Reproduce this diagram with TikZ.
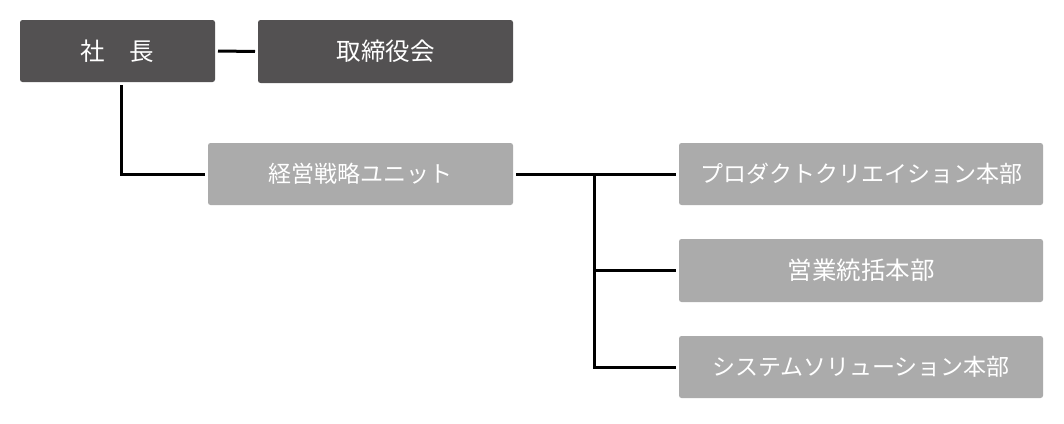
\documentclass[tikz,border=0pt]{standalone}
\usepackage{fontspec}
\setmainfont{Noto Sans CJK JP}
\definecolor{darkbox}{HTML}{535152}
\definecolor{lightbox}{HTML}{ABABAB}
\begin{document}
\begin{tikzpicture}[x=1pt,y=-1pt,
  box/.style={rectangle, rounded corners=2.5pt, text=white, inner sep=0pt, outer sep=3pt,
    font=\fontsize{24.5}{28}\selectfont},
  kana/.style={font=\fontsize{23}{28}\selectfont},
  darkb/.style={box, fill=darkbox},
  lightb/.style={box, fill=lightbox},
  conn/.style={draw=black, line width=3pt}]
\useasboundingbox (0,0) rectangle (1064,423);
\node[darkb, minimum width=195pt, minimum height=62pt] (pres) at (117.5,51) {社　長};
\node[darkb, minimum width=255pt, minimum height=63pt] (board) at (385.5,51.5) {取締役会};
\node[lightb, kana, minimum width=305pt, minimum height=62pt] (strat) at (360.5,174) {経営戦略ユニット};
\node[lightb, kana, minimum width=364pt, minimum height=62pt] (prod) at (861,174) {プロダクトクリエイション本部};
\node[lightb, minimum width=364pt, minimum height=63pt] (sales) at (861,270.5) {営業統括本部};
\node[lightb, kana, minimum width=364pt, minimum height=62pt] (sys) at (861,367) {システムソリューション本部};
\coordinate (trunk) at (594,174);
\coordinate (pdown) at (121,82);
\draw[conn] (pres.east) -- (board.west);
\draw[conn] (pres.south -| pdown) |- (strat.west);
\draw[conn] (strat.east) -- (prod.west);
\draw[conn] (trunk) |- (sales.west);
\draw[conn] (trunk) |- (sys.west);
\end{tikzpicture}
\end{document}
